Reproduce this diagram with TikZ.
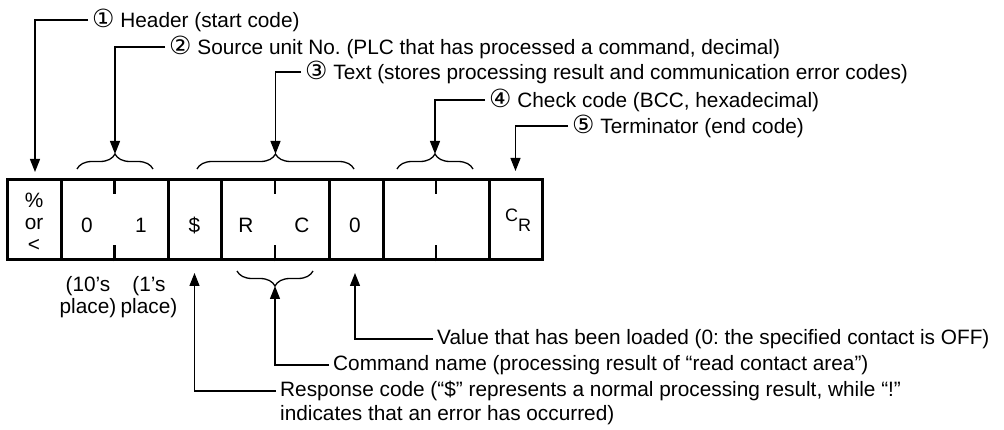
\documentclass[tikz,border=0pt]{standalone}
\usepackage{fontspec}
\setmainfont{Liberation Sans}
\newfontfamily\dejavu{DejaVu Sans}
\usetikzlibrary{arrows.meta,decorations.pathreplacing}
\newcommand{\cnum}[1]{{\dejavu\fontsize{25}{25}\selectfont #1}}
\frenchspacing
\begin{document}
\begin{tikzpicture}[x=1pt,y=-1pt,
  every node/.style={font=\fontsize{20.8}{22}\selectfont},
  cell/.style={draw, line width=3pt, minimum height=80pt, inner sep=0pt},
  celltxt/.style={anchor=base, inner sep=0pt},
  lead/.style={line width=1.3pt, -{Triangle[length=13pt,width=10pt]}},
  lbl/.style={anchor=west, inner xsep=4pt, inner ysep=0pt},
  tickmark/.style={line width=2.5pt},
  brc/.style={line width=1.3pt, decorate, decoration={brace, amplitude=15pt}}]
\useasboundingbox (0,0) rectangle (1004,430);
% cells
\node[cell, minimum width=54pt] (c1) at (34,220) {};
\node[cell, minimum width=107pt] (c2) at (114.5,220) {};
\node[cell, minimum width=53pt] (c3) at (194.5,220) {};
\node[cell, minimum width=108pt] (c4) at (275,220) {};
\node[cell, minimum width=54pt] (c5) at (356,220) {};
\node[cell, minimum width=106pt] (c6) at (436,220) {};
\node[cell, minimum width=53pt] (c7) at (515.5,220) {};
\foreach \c in {c2,c4,c6} {
  \draw[tickmark] (\c.north) -- ++(0,16);
  \draw[tickmark] (\c.south) -- ++(0,-16);
}
% cell texts
\node[align=center, inner sep=0pt] (t1) at (34,222.5) {\%\\or\\<};
\node[celltxt] (t2a) at (87,233) {0};
\node[celltxt] (t2b) at (141,233) {1};
\node[celltxt] (t3) at (194.5,233) {\$};
\node[celltxt] (t4a) at (246,233) {R};
\node[celltxt] (t4b) at (302,233) {C};
\node[celltxt] (t5) at (355,233) {0};
\node[anchor=base west, inner sep=0pt] (t7) at (505,222) {\fontsize{18}{18}\selectfont C\raisebox{-10pt}{R}};
\node[align=center, inner sep=0pt] (p10) at (88,297) {(10’s\\place)};
\node[align=center, inner sep=0pt] (p1) at (149,297) {(1’s\\place)};
% braces
\draw[brc] (77,169) -- (153,169);
\draw[brc] (197,169) -- (354,169);
\draw[brc] (397,169) -- (473,169);
\draw[brc, decoration={mirror}] (237,271) -- (313,271);
% arrow targets
\coordinate (a1) at (35,172);
\coordinate (b2) at (115,154);
\coordinate (b3) at (275.5,154);
\coordinate (b4) at (435,154);
\coordinate (a5) at (515.5,171);
\coordinate (bd) at (194.5,273);
\coordinate (bb) at (275,286);
\coordinate (bz) at (355,273);
% top labels
\node[lbl] (l1) at (88,20) {\cnum{①} Header (start code)};
\node[lbl] (l2) at (165,47) {\cnum{②} Source unit No. (PLC that has processed a command, decimal)};
\node[lbl] (l3) at (301,72) {\cnum{③} Text (stores processing result and communication error codes)};
\node[lbl] (l4) at (485,100) {\cnum{④} Check code (BCC, hexadecimal)};
\node[lbl] (l5) at (568,126) {\cnum{⑤} Terminator (end code)};
\draw[lead] (l1.west) -| (a1);
\draw[lead] (l2.west) -| (b2);
\draw[lead] (l3.west) -| (b3);
\draw[lead] (l4.west) -| (b4);
\draw[lead] (l5.west) -| (a5);
% bottom labels
\node[lbl] (v) at (433,339) {Value that has been loaded (0: the specified contact is OFF)};
\node[lbl] (cmd) at (329,365) {Command name (processing result of “read contact area”)};
\node[lbl] (rsp) at (276,391) {Response code (“\$” represents a normal processing result, while “!”};
\node[anchor=base west, inner xsep=4pt, inner ysep=0pt] (rsp2) at ([yshift=-24pt]rsp.base west) {indicates that an error has occurred)};
\draw[lead] (v.west) -| (bz);
\draw[lead] (cmd.west) -| (bb);
\draw[lead] (rsp.west) -| (bd);
\end{tikzpicture}
\end{document}
